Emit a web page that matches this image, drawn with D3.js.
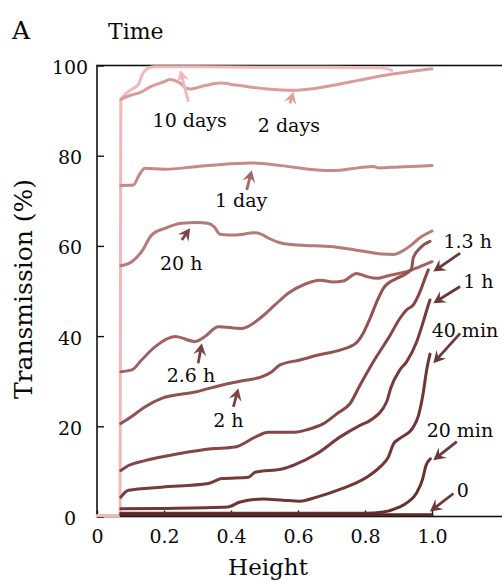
<!DOCTYPE html>
<html>
<head>
<meta charset="utf-8">
<script src="https://cdn.jsdelivr.net/npm/d3@7/dist/d3.min.js"></script>
<style>
  body { margin: 0; background: #fff; }
  text { font-family: "DejaVu Serif", serif; fill: #0a0a0a; }
</style>
</head>
<body>
<div id="chart"></div>
<script>
// transmission curves, [height, transmission %]
var tenDays = [[0,0.2],[0.066,0.2],[0.069,1],[0.071,92.3],[0.09,94],[0.11,95],[0.124,95.8],[0.134,97.8],[0.148,99.2],[0.17,99.7],[0.3,99.7],[0.5,99.6],[0.7,99.6],[0.84,99.5],[0.865,99.3],[0.88,98.9]];
var twoDays = [[0.071,92.5],[0.1,93.4],[0.128,94.0],[0.16,95.3],[0.2,96.4],[0.218,96.9],[0.235,96.6],[0.25,96],[0.265,95],[0.28,94.8],[0.32,95.5],[0.367,96.1],[0.42,95.6],[0.507,94.8],[0.586,94.5],[0.65,94.9],[0.705,95.6],[0.78,96.7],[0.855,97.8],[0.93,98.6],[1.0,99.3]];
var oneDay = [[0.071,73.4],[0.108,73.5],[0.128,76.0],[0.143,77.2],[0.2,77.0],[0.3,77.6],[0.4,78.2],[0.457,78.4],[0.55,77.8],[0.65,76.9],[0.705,76.7],[0.78,77.3],[0.825,77.6],[0.84,77.3],[0.9,77.5],[1.0,77.8]];
var twentyH = [[0.071,55.6],[0.104,56.5],[0.133,58.7],[0.163,62.4],[0.203,63.9],[0.253,65.0],[0.3,65.2],[0.33,65.0],[0.35,64.2],[0.367,62.6],[0.412,62.4],[0.47,62.9],[0.49,62.6],[0.512,61.7],[0.552,60.6],[0.6,60.2],[0.705,59.8],[0.78,59.0],[0.85,58.2],[0.885,58.1],[0.91,58.8],[0.935,60.0],[0.96,61.6],[1.0,63.3]];
var h26 = [[0.071,32.1],[0.104,32.5],[0.133,34.7],[0.173,37.6],[0.233,39.9],[0.293,38.8],[0.322,39.9],[0.362,42.1],[0.432,41.7],[0.492,44.3],[0.531,46.9],[0.571,49.5],[0.62,51.5],[0.666,52.4],[0.705,52.0],[0.735,52.2],[0.775,53.9],[0.805,53.2],[0.835,52.8],[0.875,53.5],[0.924,54.3],[0.964,55.4],[1.0,56.5]];
var h2 = [[0.071,20.6],[0.1,22.0],[0.143,24.3],[0.193,26.2],[0.293,27.6],[0.393,29.5],[0.443,30.2],[0.493,31.0],[0.522,32.1],[0.546,33.6],[0.606,34.7],[0.66,35.8],[0.725,36.9],[0.774,38.5],[0.795,40.7],[0.815,43.9],[0.835,47.6],[0.855,50.6],[0.895,52.8],[0.924,53.9],[0.939,55.0],[0.944,57.3],[0.964,59.5],[0.994,61.0]];
var h13 = [[0.071,10.2],[0.094,11.3],[0.143,12.4],[0.243,13.9],[0.342,15.0],[0.412,15.4],[0.472,17.6],[0.511,18.7],[0.591,18.7],[0.63,19.3],[0.676,20.6],[0.72,23.0],[0.755,25.0],[0.785,29.1],[0.825,34.3],[0.875,40.2],[0.904,43.9],[0.924,45.8],[0.944,46.9],[0.964,49.8],[0.979,52.8],[0.989,54.7]];
var h1 = [[0.071,4.3],[0.094,5.8],[0.193,6.5],[0.332,7.3],[0.372,8.4],[0.452,8.7],[0.472,9.8],[0.556,10.6],[0.591,11.5],[0.656,13.9],[0.725,17.6],[0.785,20.2],[0.815,21.3],[0.865,25.5],[0.877,28.5],[0.904,32.5],[0.924,34.3],[0.954,38.7],[0.974,43.2],[0.989,46.9],[0.994,48.0]];
var min40 = [[0.071,1.7],[0.2,1.8],[0.39,2.1],[0.427,3.2],[0.497,3.9],[0.556,3.6],[0.606,3.4],[0.656,4.3],[0.725,6.0],[0.805,8.7],[0.845,11.0],[0.87,13.2],[0.885,16.1],[0.904,17.3],[0.944,19.8],[0.96,22.5],[0.974,27.5],[0.984,32.5],[0.994,36.0]];
var min20 = [[0.071,0.7],[0.4,0.7],[0.8,0.7],[0.855,1.0],[0.9,2.0],[0.93,3.3],[0.954,5.2],[0.972,8.3],[0.982,11.3],[0.995,12.8]];
var zero = [[0.071,0.4],[0.5,0.4],[1.0,0.4]];

var series = [zero, min20, min40, h1, h13, h2, h26, twentyH, oneDay, twoDays, tenDays];
var seriesColors = ["#5a2828","#673131","#703636","#783b3b","#844646","#925252","#a26262","#b67878","#c88888","#db9b9b","#f2b9b9"];

var xTicks = [0, 0.2, 0.4, 0.6, 0.8, 1.0];
var yTicks = [0, 20, 40, 60, 80, 100];

// curve labels: text, x, y (in data units, text baseline)
var labelText = ["10 days","2 days","1 day","20 h","2.6 h","2 h","1.3 h","1 h","40 min","20 min","0"];
var labelX = [0.166, 0.48, 0.352, 0.188, 0.208, 0.347, 1.034, 1.093, 0.999, 0.984, 1.074];
var labelY = [86.4, 85.3, 68.6, 54.7, 29.9, 19.9, 59.5, 50.6, 39.9, 17.7, 4.4];

// arrows: tail -> tip (data units)
var arrowTail = [[0.273,92.0],[0.576,91.6],[0.447,72.4],[0.253,61.3],[0.302,34.0],[0.407,24.3],[1.084,58.4],[1.084,51.0],[1.084,40.6],[1.074,16.6],[1.064,5.1]];
var arrowTip = [[0.248,99.0],[0.586,94.2],[0.462,76.8],[0.278,63.9],[0.313,38.4],[0.422,28.4],[1.004,54.3],[1.004,47.3],[1.004,34.0],[1.004,12.5],[0.994,1.1]];
var arrowColors = ["#f0b8b8","#e0a0a0","#a86464","#7d4545","#7a4444","#7a4444","#6e3838","#6e3838","#6e3838","#6e3838","#6e3838"];

var width = 502, height = 582;

var svg = d3.select("#chart").append("svg")
    .attr("width", width)
    .attr("height", height);

var x = d3.scaleLinear().domain([0, 1.25]).range([97, 97 + 1.25 * 335]);
var y = d3.scaleLinear().domain([0, 100]).range([516.5, 65.5]);

// frame
svg.append("rect")
    .attr("x", x(0)).attr("y", y(100))
    .attr("width", x(1.25) - x(0)).attr("height", y(0) - y(100))
    .attr("fill", "none").attr("stroke", "#111").attr("stroke-width", 1.6);

// axes, ticks pointing inward
var xAxis = svg.append("g")
    .attr("transform", "translate(0," + y(0) + ")")
    .call(d3.axisBottom(x).tickValues(xTicks).tickSizeInner(-6).tickSizeOuter(0).tickPadding(13)
        .tickFormat(function(d){ return d == 0 ? "0" : d3.format(".1f")(d); }));
xAxis.select(".domain").remove();
xAxis.selectAll("line").attr("stroke", "#111").attr("stroke-width", 1.4);
xAxis.selectAll("text").style("font-family", "DejaVu Serif").style("font-size", "19px").attr("fill", "#0a0a0a");

var yAxis = svg.append("g")
    .attr("transform", "translate(" + x(0) + ",0)")
    .call(d3.axisLeft(y).tickValues(yTicks).tickSizeInner(-7).tickSizeOuter(0).tickPadding(0));
yAxis.select(".domain").remove();
yAxis.selectAll("line").attr("stroke", "#111").attr("stroke-width", 1.4);
yAxis.selectAll("text")
    .style("font-family", "DejaVu Serif").style("font-size", "19px").attr("fill", "#0a0a0a")
    .attr("text-anchor", "middle").attr("x", 70 - x(0)).attr("dy", "0.42em");

var line = d3.line()
    .x(function(d){ return x(d[0]); })
    .y(function(d){ return y(d[1]); })
    .curve(d3.curveMonotoneX);

// draw lightest first so the dark ones are on top
for (var i = series.length - 1; i >= 0; i--) {
    svg.append("path")
        .attr("d", line(series[i]))
        .attr("fill", "none")
        .attr("stroke", seriesColors[i])
        .attr("stroke-width", 3)
        .attr("stroke-linejoin", "round")
        .attr("stroke-linecap", "round");
}

// arrows
for (var j = 0; j < arrowTail.length; j++) {
    var x1 = x(arrowTail[j][0]), y1 = y(arrowTail[j][1]);
    var x2 = x(arrowTip[j][0]), y2 = y(arrowTip[j][1]);
    var ang = Math.atan2(y2 - y1, x2 - x1) * 180 / Math.PI;
    var len = Math.sqrt((x2 - x1) * (x2 - x1) + (y2 - y1) * (y2 - y1));
    var g = svg.append("g").attr("transform", "translate(" + x1 + "," + y1 + ") rotate(" + ang + ")");
    g.append("line")
        .attr("x1", 0).attr("y1", 0).attr("x2", len - 4).attr("y2", 0)
        .attr("stroke", arrowColors[j]).attr("stroke-width", 2.8);
    g.append("path")
        .attr("d", "M" + len + ",0 L" + (len - 12) + ",-6.5 L" + (len - 7.5) + ",0 L" + (len - 12) + ",6.5 Z")
        .attr("fill", arrowColors[j]);
}

// curve labels
svg.selectAll(".lbl")
    .data(labelText)
    .enter()
    .append("text")
    .attr("class", "lbl")
    .attr("x", function(d, i){ return x(labelX[i]); })
    .attr("y", function(d, i){ return y(labelY[i]); })
    .style("font-size", "19px")
    .text(function(d){ return d; });

// titles
svg.append("text").attr("x", 12).attr("y", 39).style("font-size", "25px").text("A");
svg.append("text").attr("x", 108).attr("y", 39).style("font-size", "22px").text("Time");
svg.append("text").attr("x", 268).attr("y", 575).attr("text-anchor", "middle").style("font-size", "23px").text("Height");
svg.append("text")
    .attr("transform", "translate(32,289) rotate(-90)")
    .attr("text-anchor", "middle")
    .style("font-size", "25px")
    .text("Transmission (%)");
</script>
</body>
</html>
